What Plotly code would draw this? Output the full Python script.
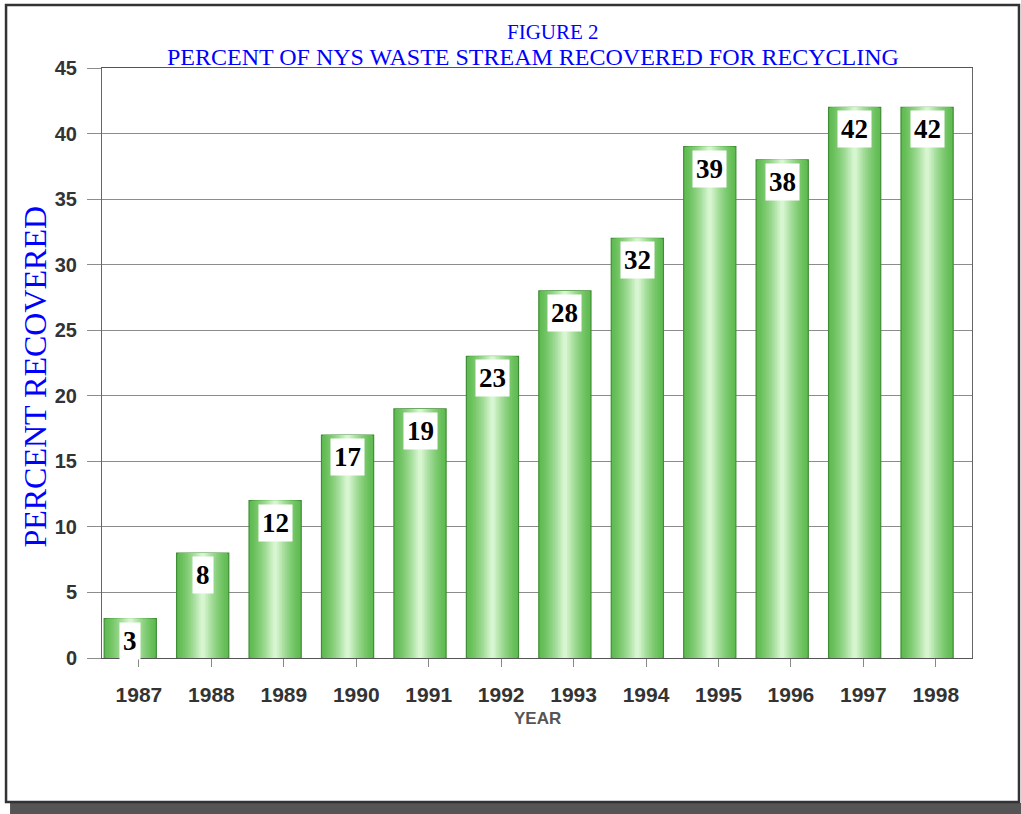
import plotly.graph_objects as go

# ---- data ----
years = ["1987", "1988", "1989", "1990", "1991", "1992",
         "1993", "1994", "1995", "1996", "1997", "1998"]
percent_recovered = [3, 8, 12, 17, 19, 23, 28, 32, 39, 38, 42, 42]
y_ticks = [0, 5, 10, 15, 20, 25, 30, 35, 40, 45]

title_line1 = "FIGURE 2"
title_line2 = "PERCENT OF NYS WASTE STREAM RECOVERED FOR RECYCLING"
y_title = "PERCENT RECOVERED"
x_title = "YEAR"

# ---- style ----
BAR_W = 0.72
BAR_SHIFT = -0.12          # bars sit slightly left of the tick marks
N_LAYERS = 16
edge_rgb = (96, 188, 82)
center_rgb = (215, 245, 208)
SERIF = "Liberation Serif, Times New Roman, serif"
SANS = "Liberation Sans, Arial, sans-serif"
BLUE = "#0000ff"

fig = go.Figure()

# layered bars to imitate the horizontal light-centre gradient
for k in range(N_LAYERS):
    t = k / (N_LAYERS - 1)
    w = BAR_W * (1 - 0.92 * t)
    c = tuple(round(edge_rgb[i] + (center_rgb[i] - edge_rgb[i]) * t ** 1.4) for i in range(3))
    fig.add_trace(go.Bar(
        x=years, y=percent_recovered,
        width=w, offset=BAR_SHIFT - w / 2,
        marker=dict(color="rgb(%d,%d,%d)" % c,
                    line=dict(color="#3f8d34" if k == 0 else "rgba(0,0,0,0)",
                              width=1.2 if k == 0 else 0)),
        hoverinfo="skip" if k else None,
        showlegend=False,
    ))

# value labels in white boxes at top of each bar
for i, v in enumerate(percent_recovered):
    fig.add_annotation(
        x=i + BAR_SHIFT, y=v, xref="x", yref="y",
        text="<b>%d</b>" % v, showarrow=False,
        yanchor="top", yshift=-3,
        font=dict(family=SERIF, size=27, color="black"),
        bgcolor="white", borderpad=3,
    )

# titles
fig.add_annotation(text=title_line1, xref="paper", yref="paper",
                   x=0.518, y=1.061, showarrow=False, yanchor="middle",
                   font=dict(family=SERIF, size=21, color=BLUE))
fig.add_annotation(text=title_line2, xref="paper", yref="paper",
                   x=0.495, y=1.018, showarrow=False, yanchor="middle",
                   font=dict(family=SERIF, size=24, color=BLUE))
fig.add_annotation(text=y_title, xref="paper", yref="paper",
                   x=-0.077, y=0.477, showarrow=False, textangle=-90,
                   xanchor="center", yanchor="middle",
                   font=dict(family=SERIF, size=32, color=BLUE))
fig.add_annotation(text="<b>" + x_title + "</b>", xref="paper", yref="paper",
                   x=0.5, y=-0.1017, showarrow=False, yanchor="middle",
                   font=dict(family=SANS, size=17, color="#555555"))

# outer frame with drop shadow
fig.add_shape(type="rect", xref="paper", yref="paper",
              x0=-0.1057, x1=1.0563, y0=-0.2644, y1=-0.2458,
              fillcolor="#555555", line=dict(width=0), layer="below")
fig.add_shape(type="rect", xref="paper", yref="paper",
              x0=-0.1103, x1=1.054, y0=-0.244, y1=1.1068,
              fillcolor="white", line=dict(color="#333333", width=2.5), layer="below")

fig.update_layout(
    width=1021, height=814,
    margin=dict(l=102, r=49, t=68, b=156),
    paper_bgcolor="white", plot_bgcolor="rgba(0,0,0,0)",
    barmode="overlay",
    xaxis=dict(
        type="category", range=[-0.51, 11.5],
        showline=True, linecolor="#555555", linewidth=1.2, mirror=True,
        showgrid=False, ticks="outside", ticklen=8, tickcolor="#888888",
        tickfont=dict(family=SANS, size=21, color="#333333", weight="bold"),
        ticklabelstandoff=10,
    ),
    yaxis=dict(
        range=[0, 45], tickvals=y_ticks,
        showline=True, linecolor="#666666", linewidth=1, mirror=True,
        showgrid=True, gridcolor="#8c8c8c", gridwidth=1,
        ticks="outside", ticklen=14, tickcolor="#8c8c8c",
        tickfont=dict(family=SANS, size=20, color="#333333", weight="bold"),
        ticklabelstandoff=6,
        zeroline=False,
    ),
)

fig.write_html("out.html", config={"displayModeBar": False},
               post_script="document.body.style.margin='0';document.body.style.overflow='hidden';")
